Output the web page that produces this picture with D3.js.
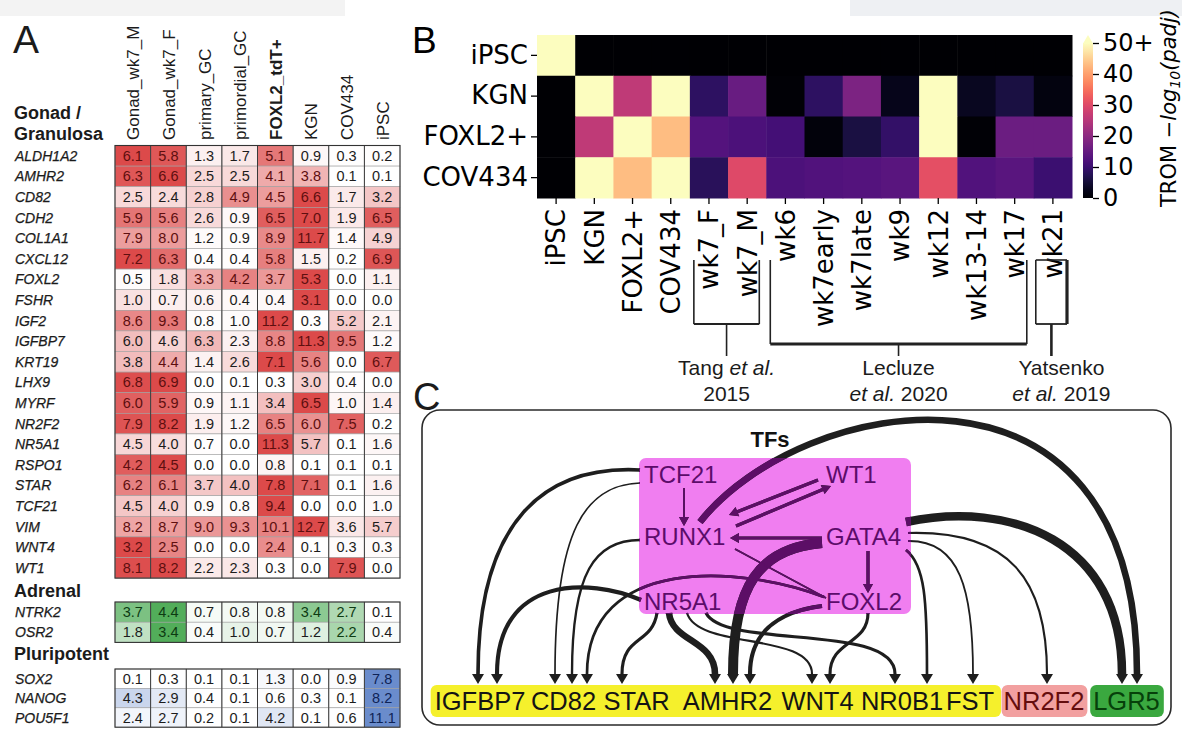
<!DOCTYPE html>
<html><head><meta charset="utf-8">
<script src="https://cdn.jsdelivr.net/npm/d3@7"></script>
<style>body{margin:0;background:#fff}svg{display:block}</style>
</head><body>
<svg id="fig" width="1182" height="734"></svg>
<script>
// ================= DATA =================
// Panel A
const samplesA = ["Gonad_wk7_M","Gonad_wk7_F","primary_GC","primordial_GC","FOXL2_tdT+","KGN","COV434","iPSC"];
const gonadGenes = ["ALDH1A2","AMHR2","CD82","CDH2","COL1A1","CXCL12","FOXL2","FSHR","IGF2","IGFBP7","KRT19","LHX9","MYRF","NR2F2","NR5A1","RSPO1","STAR","TCF21","VIM","WNT4","WT1"];
const gonadValues = [
 [6.1,5.8,1.3,1.7,5.1,0.9,0.3,0.2],
 [6.3,6.6,2.5,2.5,4.1,3.8,0.1,0.1],
 [2.5,2.4,2.8,4.9,4.5,6.6,1.7,3.2],
 [5.9,5.6,2.6,0.9,6.5,7.0,1.9,6.5],
 [7.9,8.0,1.2,0.9,8.9,11.7,1.4,4.9],
 [7.2,6.3,0.4,0.4,5.8,1.5,0.2,6.9],
 [0.5,1.8,3.3,4.2,3.7,5.3,0.0,1.1],
 [1.0,0.7,0.6,0.4,0.4,3.1,0.0,0.0],
 [8.6,9.3,0.8,1.0,11.2,0.3,5.2,2.1],
 [6.0,4.6,6.3,2.3,8.8,11.3,9.5,1.2],
 [3.8,4.4,1.4,2.6,7.1,5.6,0.0,6.7],
 [6.8,6.9,0.0,0.1,0.3,3.0,0.4,0.0],
 [6.0,5.9,0.9,1.1,3.4,6.5,1.0,1.4],
 [7.9,8.2,1.9,1.2,6.5,6.0,7.5,0.2],
 [4.5,4.0,0.7,0.0,11.3,5.7,0.1,1.6],
 [4.2,4.5,0.0,0.0,0.8,0.1,0.1,0.1],
 [6.2,6.1,3.7,4.0,7.8,7.1,0.1,1.6],
 [4.5,4.0,0.9,0.8,9.4,0.0,0.0,1.0],
 [8.2,8.7,9.0,9.3,10.1,12.7,3.6,5.7],
 [3.2,2.5,0.0,0.0,2.4,0.1,0.3,0.3],
 [8.1,8.2,2.2,2.3,0.3,0.0,7.9,0.0]
];
const adrenalGenes = ["NTRK2","OSR2"];
const adrenalValues = [
 [3.7,4.4,0.7,0.8,0.8,3.4,2.7,0.1],
 [1.8,3.4,0.4,1.0,0.7,1.2,2.2,0.4]
];
const pluriGenes = ["SOX2","NANOG","POU5F1"];
const pluriValues = [
 [0.1,0.3,0.1,0.1,1.3,0.0,0.9,7.8],
 [4.3,2.9,0.4,0.1,0.6,0.3,0.1,8.2],
 [2.4,2.7,0.2,0.1,4.2,0.1,0.6,11.1]
];

// Panel B
const tromRows = ["iPSC","KGN","FOXL2+","COV434"];
const tromCols = ["iPSC","KGN","FOXL2+","COV434","wk7_F","wk7_M","wk6","wk7early","wk7late","wk9","wk12","wk13-14","wk17","wk21"];
const tromValues = [
 [50, 0, 0, 0, 0, 0, 0, 0, 0, 0, 0, 0, 0, 0],
 [0, 50, 26, 50, 8.5, 15.5, 0.5, 8.5, 18, 2.5, 50, 3, 6, 1.5],
 [0, 26, 50, 43, 13, 12, 11, 1, 6, 9, 50, 0.5, 16, 16],
 [0, 50, 43, 50, 8, 30, 12, 12.5, 13, 13.5, 31, 12.5, 13.5, 10]
];
const tromTicks = [0,10,20,30,40,50];
const tromTickLabels = ["0","10","20","30","40","50+"];
const studies = [
 {first:"wk7_F", last:"wk7_M", line1:[["Tang ",false],["et al.",true]], line2:[["2015",false]]},
 {first:"wk6", last:"wk17", line1:[["Lecluze",false]], line2:[["et al.",true],[" 2020",false]]},
 {first:"wk21", last:"wk21", line1:[["Yatsenko",false]], line2:[["et al.",true],[" 2019",false]]}
];

// Panel C
const tfs = ["TCF21","WT1","RUNX1","GATA4","NR5A1","FOXL2"];
const targets = ["IGFBP7","CD82","STAR","AMHR2","WNT4","NR0B1","FST","NR2F2","LGR5"];
const targetClass = ["gc","gc","gc","gc","gc","gc","gc","theca","lgr5"];
const regEdges = [
 ["TCF21","IGFBP7",3.5],["NR5A1","IGFBP7",4],
 ["TCF21","CD82",1.5],["RUNX1","CD82",2.2],["FOXL2","CD82",2.5],
 ["NR5A1","STAR",3],
 ["NR5A1","AMHR2",6.5],["GATA4","AMHR2",10],["FOXL2","AMHR2",4],
 ["NR5A1","WNT4",2],["FOXL2","WNT4",3],
 ["NR5A1","NR0B1",3],["GATA4","NR0B1",2.5],
 ["GATA4","FST",1.6],["GATA4","NR2F2",2],
 ["GATA4","LGR5",8.5],["RUNX1","LGR5",6.5]
];
const tfEdges = [
 ["TCF21","RUNX1",1.6,true],["WT1","RUNX1",3,true],["RUNX1","WT1",3,true],
 ["GATA4","RUNX1",3,true],["RUNX1","FOXL2",1.4,false],["GATA4","FOXL2",3,true]
];

// ================= LAYOUT =================
const svg = d3.select("#fig");
const W = 1182, H = 734;
const SANS = "'Liberation Sans', Arial, Helvetica, sans-serif";
const DEJA = "'DejaVu Sans', sans-serif";
svg.append("rect").attr("width",W).attr("height",H).attr("fill","#fff");
svg.append("rect").attr("x",0).attr("y",0).attr("width",345).attr("height",16).attr("fill","#f3f3f3");
svg.append("rect").attr("x",850).attr("y",0).attr("width",332).attr("height",16).attr("fill","#eef0f3");

// ---------- Panel A ----------
const gA = svg.append("g").attr("font-family", SANS).attr("fill","#1b1b1b");
gA.append("text").attr("x",13).attr("y",53).attr("font-size",39).text("A");
const xA = d3.scaleBand().domain(samplesA).range([115,400]);
gA.selectAll("text.hdr").data(samplesA).join("text").attr("class","hdr")
  .attr("transform", d => `translate(${xA(d)+xA.bandwidth()/2+6.5},140) rotate(-90)`)
  .attr("font-size",17).attr("font-weight", d => d==="FOXL2_tdT+" ? "bold" : "normal")
  .text(d => d);

const blocks = [
 {title:["Gonad /","Granulosa"], titleY:[119,140], genes:gonadGenes, values:gonadValues, top:145.5, rowH:20.6, color:"#dc4a4a", hi:"#5e0f0f"},
 {title:["Adrenal"], titleY:[597], genes:adrenalGenes, values:adrenalValues, top:602, rowH:20.2, color:"#52ad5a", hi:"#0d3b12"},
 {title:["Pluripotent"], titleY:[660], genes:pluriGenes, values:pluriValues, top:669, rowH:19.4, color:"#6a8ccc", hi:"#0e2356"}
];
blocks.forEach(b => {
  b.title.forEach((t,i) => gA.append("text").attr("x",14).attr("y",b.titleY[i])
     .attr("font-size",18).attr("font-weight","bold").text(t));
  const y = d3.scaleBand().domain(b.genes).range([b.top, b.top + b.rowH*b.genes.length]);
  const g = gA.append("g");
  b.genes.forEach((gene,i) => {
    const row = b.values[i];
    const mx = d3.max(row) || 1;
    const col = d3.interpolateRgb("#ffffff", b.color);
    const cells = row.map((v,j) => ({v, s:samplesA[j], t:Math.pow(v/mx,1.6)}));
    g.selectAll(null).data(cells).join("rect")
      .attr("x", d => xA(d.s)).attr("y", y(gene))
      .attr("width", xA.bandwidth()).attr("height", y.bandwidth())
      .attr("fill", d => col(d.t)).attr("stroke","#a0a0a0").attr("stroke-width",0.6);
    g.selectAll(null).data(cells).join("text")
      .attr("x", d => xA(d.s)+xA.bandwidth()/2).attr("y", y(gene)+y.bandwidth()/2+5)
      .attr("text-anchor","middle").attr("font-size",14.5)
      .attr("fill", d => d.t > 0.4 ? b.hi : "#1c1c1c")
      .text(d => d3.format(".1f")(d.v));
    g.append("text").attr("x",15).attr("y", y(gene)+y.bandwidth()/2+5)
      .attr("font-size",14).attr("font-style","italic")
      .attr("stroke","#1b1b1b").attr("stroke-width",0.25).text(gene);
  });
  const y0 = y.range()[0], y1 = y.range()[1];
  g.selectAll(null).data(samplesA.slice(1)).join("line")
    .attr("x1", d => xA(d)).attr("x2", d => xA(d)).attr("y1",y0).attr("y2",y1)
    .attr("stroke","#3a3a3a").attr("stroke-width",1);
  g.append("rect").attr("x",xA.range()[0]).attr("y",y0)
    .attr("width",xA.range()[1]-xA.range()[0]).attr("height",y1-y0)
    .attr("fill","none").attr("stroke","#333").attr("stroke-width",1.1);
});

// ---------- Panel B ----------
const gB = svg.append("g").attr("font-family", DEJA);
gB.append("text").attr("x",412).attr("y",53).attr("font-size",37).attr("font-family",SANS).text("B");
const xB = d3.scaleBand().domain(tromCols).range([537,1072]);
const yB = d3.scaleBand().domain(tromRows).range([35,198]);
const cB = d3.scaleSequential(d3.interpolateMagma).domain([0,50]).clamp(true);
const cellsB = [];
tromRows.forEach((r,i) => tromCols.forEach((c,j) => cellsB.push({r,c,v:tromValues[i][j]})));
gB.selectAll("rect.hm").data(cellsB).join("rect").attr("class","hm")
  .attr("x", d => xB(d.c)).attr("y", d => yB(d.r))
  .attr("width", xB.bandwidth()+0.5).attr("height", yB.bandwidth()+0.5)
  .attr("fill", d => cB(d.v));

const axL = gB.append("g").attr("transform","translate(537,0)")
  .call(d3.axisLeft(yB).tickSize(6).tickPadding(3));
axL.select(".domain").remove();
axL.selectAll("text").attr("font-size",26).attr("font-family",DEJA).attr("fill","#000");
axL.selectAll("line").attr("stroke","#000").attr("stroke-width",1.3);

const axBt = gB.append("g").attr("transform","translate(0,198)")
  .call(d3.axisBottom(xB).tickSize(6));
axBt.select(".domain").remove();
axBt.selectAll("line").attr("stroke","#000").attr("stroke-width",1.3);
axBt.selectAll("text").attr("font-size",26).attr("font-family",DEJA).attr("fill","#000")
  .attr("transform","rotate(-90)").attr("x",-11).attr("y",0).attr("dy","0.36em")
  .attr("text-anchor","end");

// colorbar
const yC = d3.scaleLinear().domain([0,50]).range([198,43]);
const defs = svg.append("defs");
const grad = defs.append("linearGradient").attr("id","magma").attr("x1",0).attr("y1",1).attr("x2",0).attr("y2",0);
d3.range(0,1.0001,0.05).forEach(t => grad.append("stop").attr("offset",t).attr("stop-color", d3.interpolateMagma(t)));
gB.append("rect").attr("x",1083).attr("y",yC(50)).attr("width",10).attr("height",yC(0)-yC(50)).attr("fill","url(#magma)");
gB.append("path").attr("d",`M1083,${yC(50)+0.5}L1093,${yC(50)+0.5}L1088,35Z`).attr("fill",cB(50));
const axC = gB.append("g").attr("transform","translate(1093,0)")
  .call(d3.axisRight(yC).tickValues(tromTicks).tickSize(6).tickPadding(4)
        .tickFormat((d,i) => tromTickLabels[i]));
axC.select(".domain").remove();
axC.selectAll("line").attr("stroke","#000").attr("stroke-width",1.3);
axC.selectAll("text").attr("font-size",24).attr("font-family",DEJA).attr("fill","#000");
const cbt = gB.append("text").attr("transform","translate(1176,108) rotate(-90)")
  .attr("text-anchor","middle").attr("font-size",21).attr("fill","#000");
cbt.append("tspan").text("TROM \u2212");
cbt.append("tspan").attr("font-style","italic").text("log");
cbt.append("tspan").attr("font-style","italic").attr("font-size",14).attr("dy",4).text("10");
cbt.append("tspan").attr("font-style","italic").attr("dy",-4).text("(padj)");

// study brackets
const gS = svg.append("g").attr("font-family",SANS).attr("fill","#1b1b1b");
studies.forEach((s,k) => {
  const L = xB(s.first)+ (k===2 ? 2 : 4), R = xB(s.last)+xB.bandwidth()- (k===2 ? 5 : 7);
  const top = 260, bot = k===1 ? 344 : 324, cx = (L+R)/2;
  const st = "#222";
  const line = (x1,y1,x2,y2,w) => gS.append("line").attr("x1",x1).attr("y1",y1).attr("x2",x2).attr("y2",y2)
      .attr("stroke",st).attr("stroke-width",w);
  line(L,top,L,bot,1.6);
  line(R,top,R,bot,k===2?3.2:1.6);
  line(L,bot,R,bot,k===1?3:1.8);
  if (k===2) line(L,top,R,top,1.6);
  line(cx,bot,cx,356,k===2?2.6:1.6);
  const tx = cx + (k===2 ? 10 : 0);
  [s.line1, s.line2].forEach((ln,li) => {
    const t = gS.append("text").attr("x",tx).attr("y",li===0?375:401)
      .attr("text-anchor","middle").attr("font-size",21);
    ln.forEach(([txt,it]) => t.append("tspan").attr("font-style", it?"italic":"normal").text(txt));
  });
});

// ---------- Panel C ----------
const gC = svg.append("g").attr("font-family",SANS);
gC.append("text").attr("x",413).attr("y",410).attr("font-size",38).attr("fill","#1b1b1b").text("C");
gC.append("rect").attr("x",422).attr("y",410).attr("width",749).attr("height",315).attr("rx",18)
  .attr("fill","none").attr("stroke","#2a2a2a").attr("stroke-width",1.6);
gC.append("text").attr("x",770).attr("y",447).attr("text-anchor","middle").attr("font-size",22)
  .attr("font-weight","bold").attr("fill","#111").text("TFs");

const tfBox = {x:639, y:458, w:272, h:156};
gC.append("rect").attr("x",tfBox.x).attr("y",tfBox.y).attr("width",tfBox.w).attr("height",tfBox.h)
  .attr("rx",7).attr("fill","#f07ef0");
defs.append("clipPath").attr("id","tfclip").append("rect")
  .attr("x",tfBox.x).attr("y",tfBox.y).attr("width",tfBox.w).attr("height",tfBox.h);

const tfPos = {TCF21:[644,483], WT1:[826,483], RUNX1:[644,545], GATA4:[826,545], NR5A1:[644,610], FOXL2:[826,610]};
const targetX = {IGFBP7:480, CD82:563.5, STAR:636.5, AMHR2:727.5, WNT4:817.5, NR0B1:902, FST:970, NR2F2:1044, LGR5:1126.5};
const routes = {
 "TCF21>IGFBP7":{s:[640,470],c1:[545,465],c2y:520,port:478},
 "NR5A1>IGFBP7":{s:[641,600],c1:[590,578],c2y:575,port:497},
 "TCF21>CD82":{s:[640,483],c1:[585,485],c2y:530,port:555},
 "RUNX1>CD82":{s:[640,540],c1:[595,540],c2y:572,port:572},
 "FOXL2>CD82":{s:[824,597],c1:[740,565],c2y:555,port:587},
 "NR5A1>STAR":{s:[657,613],c1:[652,645],c2y:635,port:622},
 "NR5A1>AMHR2":{s:[669,613],c1:[672,642],c2y:640,port:715},
 "GATA4>AMHR2":{s:[822,543],c1:[760,548],c2y:585,port:733},
 "FOXL2>AMHR2":{s:[822,606],c1:[775,612],c2y:635,port:750},
 "NR5A1>WNT4":{s:[687,613],c1:[698,650],c2y:632,port:812},
 "FOXL2>WNT4":{s:[868,613],c1:[868,645],c2y:640,port:830},
 "NR5A1>NR0B1":{s:[706,613],c1:[725,650],c2y:622,port:895},
 "GATA4>NR0B1":{s:[906,550],c1:[925,565],c2y:600,port:927},
 "GATA4>FST":{s:[908,541],c1:[960,540],c2y:590,port:973},
 "GATA4>NR2F2":{s:[908,533],c1:[1010,530],c2y:580,port:1047},
 "GATA4>LGR5":{s:[906,522],c1:[1010,500],c2y:540,port:1122},
 "RUNX1>LGR5":{s:[700,522],c1:[800,395],c2y:330,port:1137}
};
const tfRoutes = {
 "TCF21>RUNX1":{s:[684,488],e:[684,526]},
 "WT1>RUNX1":{s:[818,480],e:[729,515]},
 "RUNX1>WT1":{s:[736,526],e:[831,486]},
 "GATA4>RUNX1":{s:[822,538],e:[730,538]},
 "RUNX1>FOXL2":{s:[735,549],e:[826,598]},
 "GATA4>FOXL2":{s:[868,551],e:[868,593]}
};
const wScale = d3.scaleLinear().domain([1,10]).range([1.2,10]);
const tipY = 684, arrowL = 10, arrowW = 12;

function arrowPath(base, u, L, Wd) {
  const tip = [base[0]+u[0]*L, base[1]+u[1]*L];
  const n = [-u[1], u[0]];
  return `M${tip[0]},${tip[1]}L${base[0]+n[0]*Wd/2},${base[1]+n[1]*Wd/2}L${base[0]-n[0]*Wd/2},${base[1]-n[1]*Wd/2}Z`;
}
const edgeShapes = [];
regEdges.forEach(([s,t,w]) => {
  const r = routes[s+">"+t];
  const end = [r.port, tipY-arrowL];
  const p = d3.path();
  p.moveTo(r.s[0], r.s[1]);
  p.bezierCurveTo(r.c1[0], r.c1[1], r.port, r.c2y, end[0], end[1]);
  edgeShapes.push({d:p.toString(), w:wScale(w), arrow:arrowPath(end,[0,1],arrowL,arrowW)});
});
tfEdges.forEach(([s,t,w,hasArrow]) => {
  const r = tfRoutes[s+">"+t];
  const dx = r.e[0]-r.s[0], dy = r.e[1]-r.s[1], len = Math.hypot(dx,dy);
  const u = [dx/len, dy/len];
  const L = hasArrow ? 9 : 0;
  const base = [r.e[0]-u[0]*L, r.e[1]-u[1]*L];
  const p = d3.path(); p.moveTo(r.s[0],r.s[1]); p.lineTo(base[0],base[1]);
  edgeShapes.push({d:p.toString(), w:wScale(w), arrow: hasArrow ? arrowPath(base,u,9,10) : null});
});
function drawEdges(g, color) {
  g.selectAll("path.e").data(edgeShapes).join("path").attr("class","e")
    .attr("d", d => d.d).attr("fill","none").attr("stroke",color)
    .attr("stroke-width", d => d.w);
  g.selectAll("path.a").data(edgeShapes.filter(d => d.arrow)).join("path").attr("class","a")
    .attr("d", d => d.arrow).attr("fill",color);
}
drawEdges(gC.append("g"), "#1e1e1e");
drawEdges(gC.append("g").attr("clip-path","url(#tfclip)"), "#5c0e66");

gC.selectAll("text.tf").data(tfs).join("text").attr("class","tf")
  .attr("x", d => tfPos[d][0]).attr("y", d => tfPos[d][1])
  .attr("font-size",24).attr("fill","#5c0c6a").text(d => d);

// target labels with group boxes
const boxG = gC.append("g");
const txtG = gC.append("g");
const labels = txtG.selectAll("text").data(targets).join("text")
  .attr("x", d => targetX[d]).attr("y",710).attr("text-anchor","middle")
  .attr("font-size",25.5)
  .attr("fill",(d,i) => ({gc:"#141414", theca:"#650d0d", lgr5:"#06400a"})[targetClass[i]])
  .text(d => d);
const boxStyle = {gc:{fill:"#f5f02c", pad:[4,7]}, theca:{fill:"#f2a0a0", pad:[2,3]}, lgr5:{fill:"#3aa83f", pad:[3,4]}};
["gc","theca","lgr5"].forEach(cls => {
  let x0 = Infinity, x1 = -Infinity;
  labels.each(function(d,i){ if (targetClass[i]===cls){ const bb=this.getBBox(); x0=Math.min(x0,bb.x); x1=Math.max(x1,bb.x+bb.width);} });
  const st = boxStyle[cls];
  boxG.append("rect").attr("x",x0-st.pad[0]).attr("y",685).attr("width",x1-x0+st.pad[0]+st.pad[1]).attr("height",32)
    .attr("rx",6).attr("fill",st.fill);
});

// cut-off panel letters at the bottom edge (only their tops are visible)
svg.append("text").attr("x",14).attr("y",761).attr("font-size",39).attr("font-family",SANS).attr("fill","#1b1b1b").text("D");
svg.append("text").attr("x",586).attr("y",761).attr("font-size",39).attr("font-family",SANS).attr("fill","#1b1b1b").text("E");
</script>
</body></html>
